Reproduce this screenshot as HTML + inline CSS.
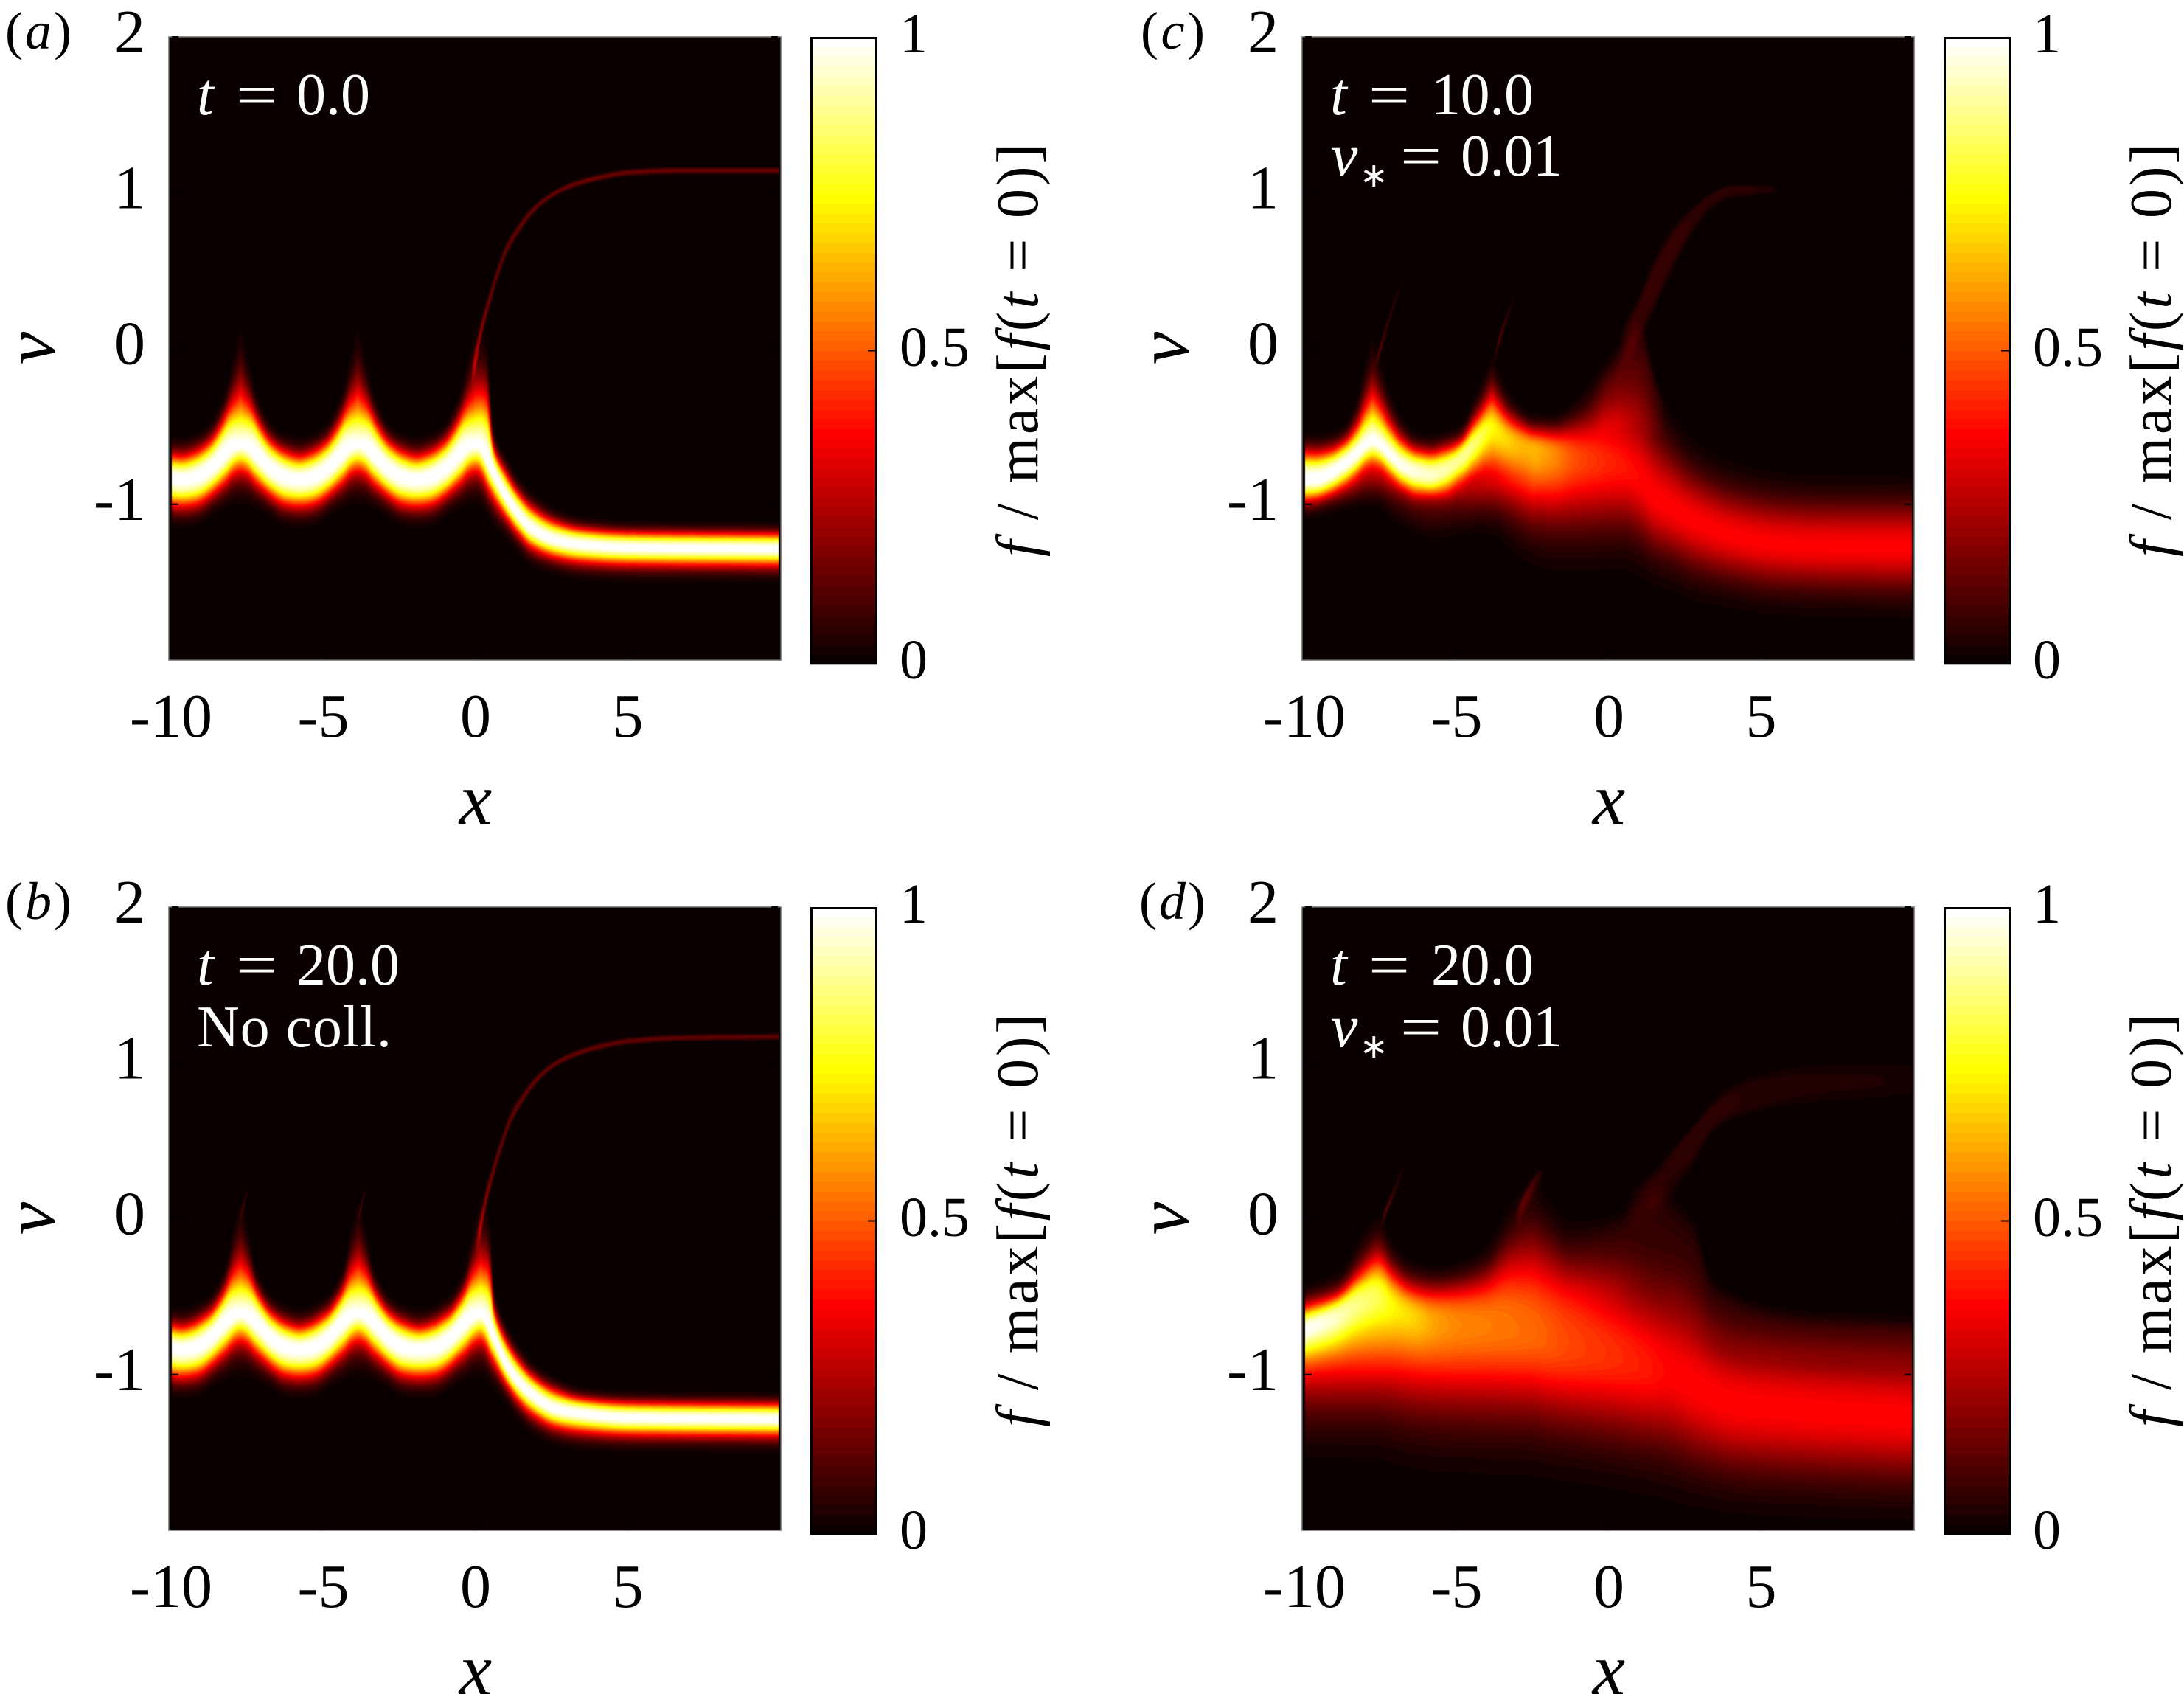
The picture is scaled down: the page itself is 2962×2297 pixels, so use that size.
<!DOCTYPE html>
<html lang="en">
<head>
<meta charset="utf-8">
<title>Phase-space distribution panels</title>
<style>
html,body{margin:0;padding:0;background:#fff;}
#page{position:relative;width:2962px;height:2297px;overflow:hidden;background:#fff;}
canvas{position:absolute;display:block;}
svg{position:absolute;left:0;top:0;}
text{font-family:"Liberation Serif",serif;fill:#000;}
.it{font-style:italic;}
.w{fill:#fff;}
</style>
</head>
<body>
<div id="page">
<canvas id="heat-a"></canvas>
<canvas id="heat-b"></canvas>
<canvas id="heat-c"></canvas>
<canvas id="heat-d"></canvas>
<svg id="overlay" width="2962" height="2297" viewBox="0 0 2962 2297">
  <!-- panel letters -->
  <text x="7" y="66" font-size="72" textLength="90">(<tspan class="it">a</tspan>)</text>
  <text x="7" y="1246" font-size="72" textLength="90">(<tspan class="it">b</tspan>)</text>
  <text x="1547" y="66" font-size="72" textLength="87">(<tspan class="it">c</tspan>)</text>
  <text x="1545" y="1246" font-size="72" textLength="90">(<tspan class="it">d</tspan>)</text>

  <!-- axis titles -->
  <text class="it" x="645" y="1117" font-size="100" text-anchor="middle">x</text>
  <text class="it" x="645" y="2297" font-size="100" text-anchor="middle">x</text>
  <text class="it" x="2182" y="1117" font-size="100" text-anchor="middle">x</text>
  <text class="it" x="2182" y="2297" font-size="100" text-anchor="middle">x</text>
  <text class="it" transform="translate(74,472) rotate(-90)" font-size="100" text-anchor="middle">v</text>
  <text class="it" transform="translate(74,1652) rotate(-90)" font-size="100" text-anchor="middle">v</text>
  <text class="it" transform="translate(1611,472) rotate(-90)" font-size="100" text-anchor="middle">v</text>
  <text class="it" transform="translate(1611,1652) rotate(-90)" font-size="100" text-anchor="middle">v</text>

  <!-- colorbar titles -->
  <text transform="translate(1407,755) rotate(-90)" font-size="80" textLength="560"><tspan class="it">f</tspan> / max[<tspan class="it">f</tspan>(<tspan class="it">t</tspan> = 0)]</text>
  <text transform="translate(1407,1935) rotate(-90)" font-size="80" textLength="560"><tspan class="it">f</tspan> / max[<tspan class="it">f</tspan>(<tspan class="it">t</tspan> = 0)]</text>
  <text transform="translate(2944,755) rotate(-90)" font-size="80" textLength="560"><tspan class="it">f</tspan> / max[<tspan class="it">f</tspan>(<tspan class="it">t</tspan> = 0)]</text>
  <text transform="translate(2944,1935) rotate(-90)" font-size="80" textLength="560"><tspan class="it">f</tspan> / max[<tspan class="it">f</tspan>(<tspan class="it">t</tspan> = 0)]</text>
</svg>
<svg id="notes" width="2962" height="2297" viewBox="0 0 2962 2297">
  <g>
    <text class="w it" x="267" y="155" font-size="82">t</text>
    <text class="w" x="320" y="155" font-size="78" textLength="56" lengthAdjust="spacingAndGlyphs">=</text>
    <text class="w" x="402" y="155" font-size="80" textLength="100">0.0</text>
  </g>
  <g>
    <text class="w it" x="267" y="1335" font-size="82">t</text>
    <text class="w" x="320" y="1335" font-size="78" textLength="56" lengthAdjust="spacingAndGlyphs">=</text>
    <text class="w" x="402" y="1335" font-size="80" textLength="140">20.0</text>
  </g>
  <text class="w" x="267" y="1419" font-size="80" textLength="264">No coll.</text>
  <g>
    <text class="w it" x="1804" y="155" font-size="82">t</text>
    <text class="w" x="1856" y="155" font-size="78" textLength="56" lengthAdjust="spacingAndGlyphs">=</text>
    <text class="w" x="1941" y="155" font-size="80" textLength="139">10.0</text>
  </g>
  <g>
    <text class="w it" x="1805" y="238" font-size="82">ν</text>
    <text class="w" x="1844" y="253" font-size="46">∗</text>
    <text class="w" x="1899" y="238" font-size="78" textLength="56" lengthAdjust="spacingAndGlyphs">=</text>
    <text class="w" x="1981" y="238" font-size="80" textLength="138">0.01</text>
  </g>
  <g>
    <text class="w it" x="1804" y="1335" font-size="82">t</text>
    <text class="w" x="1856" y="1335" font-size="78" textLength="56" lengthAdjust="spacingAndGlyphs">=</text>
    <text class="w" x="1941" y="1335" font-size="80" textLength="139">20.0</text>
  </g>
  <g>
    <text class="w it" x="1805" y="1419" font-size="82">ν</text>
    <text class="w" x="1844" y="1434" font-size="46">∗</text>
    <text class="w" x="1899" y="1419" font-size="78" textLength="56" lengthAdjust="spacingAndGlyphs">=</text>
    <text class="w" x="1981" y="1419" font-size="80" textLength="138">0.01</text>
  </g>
</svg>
</div>
<script>
/* ---------- axis tick data ---------- */
const xTicks = [-10, -5, 0, 5];
const xTickLabels = ['-10', '-5', '0', '5'];
const vTicks = [2, 1, 0, -1];
const vTickLabels = ['2', '1', '0', '-1'];
const barTicks = [0, 0.5, 1];
const barTickLabels = ['0', '0.5', '1'];

/* profile exponents shared by simple layers */
const flatPowX = [-10, 10];
const flatPow = [2, 2];
const wideTailPow = [4, 4];

/* ---------- panel a ---------- */
const aMainX = [-10,
 -9.65,-9.22,-9.02,-8.72,-8.47,-8.22,-7.97,-7.82,-7.72,-7.62,-7.47,-7.22,-6.97,-6.72,-6.42,-6.22,
 -5.79,-5.37,-5.17,-4.87,-4.62,-4.37,-4.12,-3.97,-3.87,-3.77,-3.62,-3.37,-3.12,-2.87,-2.57,-2.37,
 -1.94,-1.5,-1.3,-1,-0.75,-0.5,-0.25,-0.1,0,
 0.1,0.2,0.35,0.44,0.52,0.6,1,1.41,1.82,2.62,3.43,5.04,10];
const aMainTop = [-0.6,
 -0.604,-0.58,-0.56,-0.51,-0.43,-0.32,-0.155,-0.065,-0.004,-0.065,-0.155,-0.32,-0.43,-0.51,-0.56,-0.58,
 -0.604,-0.58,-0.56,-0.51,-0.43,-0.32,-0.155,-0.065,-0.004,-0.065,-0.155,-0.32,-0.43,-0.51,-0.56,-0.58,
 -0.604,-0.58,-0.56,-0.51,-0.43,-0.32,-0.155,-0.065,-0.004,
 -0.01,-0.02,-0.06,-0.2,-0.42,-0.547,-0.72,-0.855,-0.945,-1.05,-1.1,-1.127,-1.137];
const aMainCenter = [-0.83,
 -0.836,-0.825,-0.81,-0.775,-0.73,-0.68,-0.635,-0.622,-0.62,-0.622,-0.635,-0.68,-0.73,-0.775,-0.81,-0.825,
 -0.836,-0.825,-0.81,-0.775,-0.73,-0.68,-0.635,-0.622,-0.62,-0.622,-0.635,-0.68,-0.73,-0.775,-0.81,-0.825,
 -0.836,-0.825,-0.81,-0.775,-0.73,-0.68,-0.635,-0.622,-0.62,
 -0.622,-0.64,-0.7,-0.74,-0.77,-0.8,-0.953,-1.07,-1.157,-1.233,-1.262,-1.281,-1.29];
const aMainBottom = [-1.105,
 -1.11,-1.1,-1.085,-1.045,-1.01,-0.98,-0.945,-0.937,-0.935,-0.937,-0.945,-0.98,-1.01,-1.045,-1.085,-1.1,
 -1.11,-1.1,-1.085,-1.045,-1.01,-0.98,-0.945,-0.937,-0.935,-0.937,-0.945,-0.98,-1.01,-1.045,-1.085,-1.1,
 -1.11,-1.1,-1.085,-1.045,-1.01,-0.98,-0.945,-0.937,-0.935,
 -0.94,-0.96,-1.01,-1.04,-1.065,-1.09,-1.18,-1.28,-1.36,-1.42,-1.45,-1.465,-1.47];
const aMainAmpX = [-10, 10];
const aMainAmp = [1, 1];
const aMainPowX = [-10,-9.65,-8.72,-8.22,-7.97,-7.72,-7.47,-7.22,-6.72,-5.79,-4.87,-4.37,-4.12,-3.87,-3.62,-3.37,-2.87,-1.94,-1,-0.5,-0.25,0,0.25,0.5,1,10];
const aMainPowUp = [2.3,2.3,2.7,2.7,2.1,1.75,2.1,2.7,2.7,2.3,2.7,2.7,2.1,1.75,2.1,2.7,2.7,2.3,2.7,2.7,2.1,1.75,2,2.3,2.5,2.5];
const aMainPowDown = [2.5,2.5,2.4,2.2,1.9,1.75,1.9,2.2,2.4,2.5,2.4,2.2,1.9,1.75,1.9,2.2,2.4,2.5,2.4,2.2,1.9,1.75,1.9,2,2,2];
const aTailX = [-0.15,0,0.2,0.44,0.68,1,1.41,1.82,2.38,3.03,3.83,5.04,6.66,10];
const aTailCenter = [-0.2,-0.064,0.13,0.3,0.457,0.63,0.766,0.873,0.969,1.037,1.086,1.129,1.143,1.143];
const aTailTop = [-0.08,0.04,0.22,0.38,0.527,0.69,0.816,0.913,1.001,1.069,1.118,1.161,1.172,1.172];
const aTailBottom = [-0.32,-0.17,0.04,0.22,0.387,0.57,0.716,0.833,0.937,1.005,1.054,1.097,1.108,1.108];
const aTailAmpX = [-0.15,0,0.2,0.44,0.68,1,5.04,10];
const aTailAmp = [0,0.22,0.18,0.15,0.14,0.14,0.15,0.15];

/* ---------- panel b ---------- */
const bMainX = [-10,
 -9.65,-9.22,-9.02,-8.72,-8.47,-8.22,-7.97,-7.82,-7.72,-7.62,-7.47,-7.22,-6.97,-6.72,-6.42,-6.22,
 -5.79,-5.35,-5.15,-4.85,-4.6,-4.35,-4.1,-3.95,-3.85,-3.75,-3.6,-3.35,-3.1,-2.85,-2.55,-2.35,
 -1.85,-1.34,-1.14,-0.84,-0.59,-0.34,-0.09,0.06,0.16,
 0.26,0.36,0.48,0.6,1,1.41,1.82,2.62,3.43,5.04,10];
const bMainTop = [-0.6,
 -0.61,-0.585,-0.56,-0.52,-0.45,-0.35,-0.16,-0.07,-0.02,-0.07,-0.16,-0.35,-0.45,-0.52,-0.565,-0.585,
 -0.61,-0.585,-0.56,-0.52,-0.45,-0.35,-0.16,-0.07,-0.02,-0.07,-0.16,-0.35,-0.45,-0.52,-0.565,-0.585,
 -0.615,-0.585,-0.56,-0.52,-0.45,-0.35,-0.16,-0.06,0,
 -0.02,-0.05,-0.15,-0.46,-0.7,-0.836,-0.935,-1.04,-1.1,-1.127,-1.137];
const bMainCenter = [-0.825,
 -0.835,-0.825,-0.81,-0.77,-0.72,-0.67,-0.63,-0.615,-0.61,-0.615,-0.63,-0.67,-0.72,-0.77,-0.81,-0.825,
 -0.835,-0.825,-0.81,-0.77,-0.72,-0.67,-0.63,-0.615,-0.61,-0.615,-0.63,-0.67,-0.72,-0.77,-0.81,-0.825,
 -0.835,-0.825,-0.81,-0.77,-0.72,-0.67,-0.63,-0.615,-0.61,
 -0.625,-0.65,-0.71,-0.76,-0.935,-1.05,-1.127,-1.224,-1.252,-1.281,-1.29];
const bMainBottom = [-1.11,
 -1.115,-1.105,-1.09,-1.05,-1.015,-0.985,-0.95,-0.94,-0.94,-0.94,-0.95,-0.985,-1.015,-1.05,-1.09,-1.105,
 -1.115,-1.105,-1.09,-1.05,-1.015,-0.985,-0.95,-0.94,-0.94,-0.94,-0.95,-0.985,-1.015,-1.05,-1.09,-1.105,
 -1.115,-1.105,-1.09,-1.05,-1.015,-0.985,-0.95,-0.94,-0.94,
 -0.945,-0.97,-1.01,-1.04,-1.15,-1.26,-1.34,-1.42,-1.45,-1.465,-1.47];
const bMainAmpX = [-10, 10];
const bMainAmp = [1, 1];
const bMainPowX = [-10,-9.65,-8.72,-8.22,-7.97,-7.72,-7.47,-7.22,-6.72,-5.79,-4.85,-4.35,-4.1,-3.85,-3.6,-3.35,-2.85,-1.85,-0.84,-0.34,-0.09,0.16,0.41,0.66,1.16,10];
const bMainPowUp = [2.3,2.3,2.7,2.7,2.1,1.75,2.1,2.7,2.7,2.3,2.7,2.7,2.1,1.75,2.1,2.7,2.7,2.3,2.7,2.7,2.1,1.75,2,2.3,2.5,2.5];
const bMainPowDown = [2.5,2.5,2.4,2.2,1.9,1.75,1.9,2.2,2.4,2.5,2.4,2.2,1.9,1.75,1.9,2.2,2.4,2.5,2.4,2.2,1.9,1.75,1.9,2,2,2];
const bTailX = [0,0.16,0.36,0.6,0.84,1.16,1.57,1.98,2.54,3.19,3.99,5.04,6.66,10];
const bTailCenter = [-0.2,-0.05,0.145,0.315,0.47,0.645,0.78,0.888,0.984,1.05,1.1,1.14,1.16,1.168];
const bTailTop = [-0.09,0.05,0.235,0.395,0.54,0.705,0.83,0.928,1.016,1.082,1.132,1.172,1.19,1.198];
const bTailBottom = [-0.31,-0.15,0.055,0.235,0.4,0.585,0.73,0.848,0.952,1.018,1.068,1.108,1.13,1.138];
const bTailAmpX = [0,0.16,0.6,1,10];
const bTailAmp = [0,0.2,0.15,0.14,0.14];
const bTip1X = [-7.75,-7.65,-7.55,-7.42];
const bTip1Center = [-0.02,0.06,0.14,0.2];
const bTip1Top = [0.02,0.1,0.18,0.24];
const bTip1Bottom = [-0.06,0.02,0.1,0.16];
const bTip1AmpX = [-7.75,-7.65,-7.55,-7.42];
const bTip1Amp = [0,0.1,0.06,0];
const bTip2X = [-3.88,-3.78,-3.68,-3.55];
const bTip2Center = [-0.02,0.06,0.14,0.2];
const bTip2Top = [0.02,0.1,0.18,0.24];
const bTip2Bottom = [-0.06,0.02,0.1,0.16];
const bTip2AmpX = [-3.88,-3.78,-3.68,-3.55];
const bTip2Amp = [0,0.1,0.06,0];

/* ---------- panel c ---------- */
const cMainX = [-10,-9.65,-9.2,-8.7,-8.25,-8,-7.85,-7.76,-7.66,-7.5,-7.25,-6.8,-6.3,-5.84,-5.4,-4.9,-4.4,-4.1,-3.93,-3.83,-3.7,-3.4,-3,-2.4,-1.5];
const cMainCenter = [-0.826,-0.826,-0.8,-0.74,-0.67,-0.62,-0.6,-0.594,-0.6,-0.62,-0.67,-0.75,-0.79,-0.806,-0.78,-0.71,-0.6,-0.53,-0.5,-0.49,-0.5,-0.55,-0.61,-0.66,-0.7];
const cMainTop = [-0.574,-0.58,-0.57,-0.52,-0.36,-0.18,-0.09,-0.05,-0.09,-0.17,-0.31,-0.48,-0.57,-0.584,-0.56,-0.52,-0.34,-0.22,-0.14,-0.1,-0.16,-0.28,-0.37,-0.42,-0.4];
const cMainBottom = [-1.04,-1.03,-1,-0.96,-0.92,-0.9,-0.9,-0.9,-0.9,-0.9,-0.92,-0.96,-1,-1,-1,-0.98,-0.96,-0.96,-0.98,-0.98,-0.98,-0.98,-1,-1,-1];
const cMainAmpX = [-10,-7.76,-5.84,-4.9,-4.4,-3.83,-3.2,-2.6,-2.2];
const cMainAmp = [0.98,1,0.93,0.88,0.78,0.47,0.22,0.03,0];
const cMainPowX = [-10,-8.7,-7.76,-6.8,-5.84,-4.9,-3.83,-3,-1.5];
const cMainPow = [2.4,2.3,1.75,2.2,2.4,2.2,1.8,2,2];
const cBroadX = [-5,-4.4,-3.83,-3.2,-2.4,-1.87,-1.1,-0.45,-0.07,0.4,0.83,1.2,1.47,2.11,2.75,4.03,5.31,6.6,10];
const cBroadCenter = [-0.85,-0.75,-0.62,-0.62,-0.66,-0.68,-0.71,-0.72,-0.73,-0.75,-0.8,-0.88,-0.95,-1.03,-1.1,-1.2,-1.25,-1.27,-1.28];
const cBroadTop = [-0.6,-0.4,-0.15,-0.33,-0.44,-0.44,-0.35,-0.2,-0.12,-0.1,-0.1,-0.15,-0.25,-0.45,-0.6,-0.74,-0.8,-0.825,-0.835];
const cBroadBottom = [-1.15,-1.15,-1.15,-1.24,-1.32,-1.36,-1.38,-1.39,-1.39,-1.39,-1.42,-1.47,-1.5,-1.54,-1.6,-1.65,-1.69,-1.7,-1.72];
const cBroadAmpX = [-5,-4.4,-3.83,-3.2,-2.4,-1.87,-1.1,-0.45,-0.07,0.4,0.83,1.2,10];
const cBroadAmp = [0,0.1,0.3,0.45,0.62,0.58,0.48,0.44,0.42,0.4,0.38,0.37,0.365];
const cBroadPowX = [-5,-1.5,-0.45,0.4,10];
const cBroadPowUp = [2.6,2.6,2.2,2,2.2];
const cBroadPowDown = [2,2,2,2,2];
const cSkirtX = [-10,-8.5,-7.76,-7,-5.84,-4.8,-3.83,-3.2,-2.4];
const cSkirtCenter = [-0.95,-0.9,-0.85,-0.9,-0.95,-0.95,-0.9,-0.9,-0.95];
const cSkirtTop = [-0.8,-0.75,-0.7,-0.75,-0.8,-0.8,-0.75,-0.75,-0.8];
const cSkirtBottom = [-1.12,-1.06,-1.03,-1.15,-1.26,-1.24,-1.2,-1.28,-1.36];
const cSkirtAmpX = [-10,-8.5,-7.76,-7,-5.84,-4.8,-3.83,-3.2,-2.4];
const cSkirtAmp = [0.12,0.1,0.1,0.12,0.14,0.12,0.09,0.06,0.02];
const cDimX = [-0.6,-0.07,0.4,0.83,1.1,1.3,1.5,1.9];
const cDimCenter = [-0.4,-0.35,-0.3,-0.25,-0.25,-0.3,-0.35,-0.45];
const cDimTop = [-0.25,-0.08,0.08,0.22,0.2,0.05,-0.15,-0.35];
const cDimBottom = [-0.6,-0.6,-0.6,-0.6,-0.6,-0.6,-0.6,-0.6];
const cDimAmpX = [-0.6,-0.07,0.4,0.83,1.1,1.3,1.5,1.9];
const cDimAmp = [0,0.07,0.1,0.1,0.09,0.08,0.06,0];
const cTailX = [0.3,0.83,1.47,2.11,2.75,3.39,4.03,5.31,5.5];
const cTailCenter = [0,0.15,0.42,0.66,0.84,0.97,1.02,1.02,1.02];
const cTailTop = [0.15,0.3,0.59,0.8,0.92,1.01,1.058,1.05,1.04];
const cTailBottom = [-0.2,-0.05,0.2,0.48,0.72,0.88,0.95,0.99,1];
const cTailAmpX = [0.3,0.83,1.47,2.11,2.75,3.39,4.03,5.31,5.5];
const cTailAmp = [0,0.06,0.07,0.07,0.06,0.05,0.05,0.04,0];
const cTip1X = [-7.7,-7.5,-7.2,-6.9,-6.72];
const cTip1Center = [-0.12,0,0.2,0.37,0.44];
const cTip1Top = [-0.07,0.05,0.25,0.42,0.48];
const cTip1Bottom = [-0.17,-0.05,0.15,0.32,0.4];
const cTip1AmpX = [-7.7,-7.5,-7.2,-6.9,-6.72];
const cTip1Amp = [0,0.12,0.06,0.03,0];
const cTip2X = [-3.78,-3.6,-3.35,-3.15,-3.02];
const cTip2Center = [-0.1,0.05,0.2,0.31,0.37];
const cTip2Top = [-0.05,0.1,0.25,0.35,0.4];
const cTip2Bottom = [-0.15,0,0.15,0.27,0.34];
const cTip2AmpX = [-3.78,-3.6,-3.35,-3.15,-3.02];
const cTip2Amp = [0,0.12,0.06,0.03,0];

/* ---------- panel d ---------- */
const dMainX = [-10,-9,-8.2,-7.57,-7,-6.3,-5.65,-5];
const dMainCenter = [-0.69,-0.6,-0.5,-0.45,-0.5,-0.6,-0.66,-0.7];
const dMainTop = [-0.47,-0.42,-0.25,-0.1,-0.22,-0.34,-0.4,-0.4];
const dMainBottom = [-1.05,-1,-0.96,-0.95,-0.95,-0.98,-1,-1];
const dMainAmpX = [-10,-9,-8.2,-7.57,-7,-6.3,-5.65,-5];
const dMainAmp = [0.62,0.56,0.46,0.38,0.25,0.12,0.03,0];
const dBroadX = [-10,-8.79,-8.15,-7.57,-7.12,-6.6,-5.65,-4.9,-4.04,-3.15,-2.5,-2.12,-1.35,0.19,0.83,1.47,2.11,2.75,3.39,4.03,5.31,6.6,10];
const dBroadCenter = [-0.8,-0.76,-0.74,-0.72,-0.7,-0.69,-0.68,-0.69,-0.7,-0.72,-0.74,-0.77,-0.825,-0.89,-0.93,-0.97,-1.01,-1.08,-1.14,-1.19,-1.22,-1.24,-1.28];
const dBroadTop = [-0.466,-0.35,-0.147,-0.04,-0.19,-0.29,-0.33,-0.3,-0.21,0.058,0.16,0.1,-0.05,-0.1,-0.16,-0.2,-0.23,-0.32,-0.48,-0.55,-0.6,-0.62,-0.64];
const dBroadBottom = [-1.5,-1.49,-1.485,-1.48,-1.5,-1.52,-1.54,-1.55,-1.56,-1.57,-1.58,-1.6,-1.63,-1.69,-1.72,-1.75,-1.79,-1.83,-1.85,-1.87,-1.89,-1.9,-1.92];
const dBroadAmpX = [-10,-7.57,-5.65,-4.04,-2.5,-1.35,0.19,1.2,2.11,4.03,10];
const dBroadAmp = [0.4,0.5,0.57,0.55,0.52,0.47,0.43,0.4,0.37,0.37,0.37];
const dBroadPowX = [-10,-4,-2.5,-1.35,0.19,10];
const dBroadPowUp = [3,3,2.5,3,2.5,2.2];
const dBroadPowDown = [2,2,2,2,2,2];
const dDimX = [-1.5,-0.6,0.19,0.83,1.47,2.11,2.75,3.39,4.03,5.31,6.6,10];
const dDimCenter = [-0.3,-0.3,-0.25,-0.2,-0.15,-0.25,-0.35,-0.6,-0.67,-0.75,-0.78,-0.8];
const dDimTop = [0,0.02,0.06,0.2,0.33,0.2,0.06,-0.35,-0.45,-0.56,-0.6,-0.64];
const dDimBottom = [-0.6,-0.6,-0.6,-0.6,-0.65,-0.7,-0.8,-0.85,-0.9,-0.95,-0.95,-1];
const dDimAmpX = [-1.5,-0.6,0.19,0.83,1.47,2.11,2.75,3.39,10];
const dDimAmp = [0,0.03,0.05,0.06,0.06,0.06,0.06,0.05,0.05];
const dTailX = [0.5,1.47,2.11,2.75,3.39,4.03,5.31,6.6,10];
const dTailCenter = [0.05,0.2,0.38,0.52,0.66,0.74,0.82,0.87,0.89];
const dTailTop = [0.2,0.325,0.47,0.61,0.76,0.88,0.98,1.02,1.03];
const dTailBottom = [-0.1,0,0.12,0.3,0.53,0.61,0.67,0.7,0.756];
const dTailAmpX = [0.5,1.47,2.11,2.75,3.39,4.03,5.31,6.6,10];
const dTailAmp = [0,0.04,0.05,0.06,0.06,0.05,0.04,0.035,0.03];
const dTip1X = [-7.5,-7.3,-7,-6.8,-6.68];
const dTip1Center = [-0.05,0.06,0.2,0.3,0.33];
const dTip1Top = [0,0.11,0.25,0.34,0.36];
const dTip1Bottom = [-0.1,0.01,0.15,0.26,0.3];
const dTip1AmpX = [-7.5,-7.3,-7,-6.8,-6.68];
const dTip1Amp = [0,0.12,0.06,0.03,0];
const dTip2X = [-3.1,-2.8,-2.5,-2.3,-2.15];
const dTip2Center = [0,0.12,0.22,0.28,0.3];
const dTip2Top = [0.06,0.18,0.28,0.33,0.34];
const dTip2Bottom = [-0.14,-0.02,0.08,0.18,0.24];
const dTip2AmpX = [-3.1,-2.8,-2.5,-2.3,-2.15];
const dTip2Amp = [0,0.1,0.08,0.05,0];

/* monotone cubic (PCHIP) through digitised knots */
function curve(xs, ys) {
  const n = xs.length;
  const h = [], s = [], m = new Array(n).fill(0);
  for (let i = 0; i < n - 1; i++) { h.push(xs[i + 1] - xs[i]); s.push((ys[i + 1] - ys[i]) / h[i]); }
  m[0] = s[0]; m[n - 1] = s[n - 2];
  for (let i = 1; i < n - 1; i++) {
    if (s[i - 1] * s[i] > 0) {
      const w1 = 2 * h[i] + h[i - 1], w2 = h[i] + 2 * h[i - 1];
      m[i] = (w1 + w2) / (w1 / s[i - 1] + w2 / s[i]);
    }
  }
  return function (x) {
    if (x <= xs[0]) return ys[0];
    if (x >= xs[n - 1]) return ys[n - 1];
    let lo = 0, hi = n - 1;
    while (hi - lo > 1) { const k = (hi + lo) >> 1; if (xs[k] <= x) lo = k; else hi = k; }
    const d = h[lo], t = (x - xs[lo]) / d, t2 = t * t, t3 = t2 * t;
    return (2 * t3 - 3 * t2 + 1) * ys[lo] + (t3 - 2 * t2 + t) * d * m[lo] + (-2 * t3 + 3 * t2) * ys[hi] + (t3 - t2) * d * m[hi];
  };
}

function layer(x, center, top, bottom, ampX, amp, powX, powUp, powDown) {
  const pX = powX || flatPowX, pU = powUp || flatPow, pD = powDown || pU;
  return {
    xMin: x[0], xMax: x[x.length - 1],
    center: curve(x, center), top: curve(x, top), bottom: curve(x, bottom),
    amp: curve(ampX, amp), powUp: curve(pX, pU), powDown: curve(pX, pD)
  };
}

const panels = [
  { key: 'a', dx: 0, dy: 0, layers: [
    layer(aMainX, aMainCenter, aMainTop, aMainBottom, aMainAmpX, aMainAmp, aMainPowX, aMainPowUp, aMainPowDown),
    layer(aTailX, aTailCenter, aTailTop, aTailBottom, aTailAmpX, aTailAmp) ] },
  { key: 'b', dx: 0, dy: 1180, layers: [
    layer(bMainX, bMainCenter, bMainTop, bMainBottom, bMainAmpX, bMainAmp, bMainPowX, bMainPowUp, bMainPowDown),
    layer(bTailX, bTailCenter, bTailTop, bTailBottom, bTailAmpX, bTailAmp),
    layer(bTip1X, bTip1Center, bTip1Top, bTip1Bottom, bTip1AmpX, bTip1Amp),
    layer(bTip2X, bTip2Center, bTip2Top, bTip2Bottom, bTip2AmpX, bTip2Amp) ] },
  { key: 'c', dx: 1537, dy: 0, layers: [
    layer(cMainX, cMainCenter, cMainTop, cMainBottom, cMainAmpX, cMainAmp, cMainPowX, cMainPow),
    layer(cBroadX, cBroadCenter, cBroadTop, cBroadBottom, cBroadAmpX, cBroadAmp, cBroadPowX, cBroadPowUp, cBroadPowDown),
    layer(cSkirtX, cSkirtCenter, cSkirtTop, cSkirtBottom, cSkirtAmpX, cSkirtAmp),
    layer(cDimX, cDimCenter, cDimTop, cDimBottom, cDimAmpX, cDimAmp, flatPowX, wideTailPow),
    layer(cTailX, cTailCenter, cTailTop, cTailBottom, cTailAmpX, cTailAmp, flatPowX, wideTailPow),
    layer(cTip1X, cTip1Center, cTip1Top, cTip1Bottom, cTip1AmpX, cTip1Amp),
    layer(cTip2X, cTip2Center, cTip2Top, cTip2Bottom, cTip2AmpX, cTip2Amp) ] },
  { key: 'd', dx: 1537, dy: 1180, layers: [
    layer(dMainX, dMainCenter, dMainTop, dMainBottom, dMainAmpX, dMainAmp),
    layer(dBroadX, dBroadCenter, dBroadTop, dBroadBottom, dBroadAmpX, dBroadAmp, dBroadPowX, dBroadPowUp, dBroadPowDown),
    layer(dDimX, dDimCenter, dDimTop, dDimBottom, dDimAmpX, dDimAmp, flatPowX, wideTailPow),
    layer(dTailX, dTailCenter, dTailTop, dTailBottom, dTailAmpX, dTailAmp, flatPowX, wideTailPow),
    layer(dTip1X, dTip1Center, dTip1Top, dTip1Bottom, dTip1AmpX, dTip1Amp),
    layer(dTip2X, dTip2Center, dTip2Top, dTip2Bottom, dTip2AmpX, dTip2Amp) ] }
];

/* ---------- scales ---------- */
const AX = { left: 229, right: 1059, top: 50, bottom: 895, dataLeft: 233, dataRight: 1056 };
const BAR = { left: 1099, right: 1190, top: 50, bottom: 901 };
function xScale(x) { return 645 + 41.3 * x; }
function xInvert(px) { return (px - 645) / 41.3; }
function vScale(v) { return AX.top + (2 - v) * (AX.bottom - AX.top) / 4; }
function vInvert(py) { return 2 - (py - AX.top) * 4 / (AX.bottom - AX.top); }
function barScale(f) { return BAR.bottom - f * (BAR.bottom - BAR.top); }

/* ---------- 64-level hot colormap ---------- */
function hot(i) {
  const n = 64, n1 = 24;
  const r = Math.min(1, (i + 1) / n1);
  const g = i < n1 ? 0 : Math.min(1, (i - n1 + 1) / n1);
  const b = i < 2 * n1 ? 0 : (i - 2 * n1 + 1) / (n - 2 * n1);
  return 'rgb(' + Math.round(r * 255) + ',' + Math.round(g * 255) + ',' + Math.round(b * 255) + ')';
}
const hotColors = [];
for (let i = 0; i < 64; i++) hotColors.push(hot(i));

function layerProfile(l, x) {
  if (x < l.xMin || x > l.xMax) return null;
  const amp = l.amp(x);
  if (amp <= 0.001) return null;
  const c = l.center(x);
  const pu = l.powUp(x), pd = l.powDown(x);
  return {
    amp: amp, c: c, pu: pu, pd: pd,
    wu: Math.max(0.004, (l.top(x) - c) / Math.pow(3, 1 / pu)),
    wd: Math.max(0.004, (c - l.bottom(x)) / Math.pow(3, 1 / pd))
  };
}

function drawHeat(p) {
  const cv = document.getElementById('heat-' + p.key);
  const W = AX.right - AX.left, H = AX.bottom - AX.top;
  cv.width = W; cv.height = H;
  cv.style.left = (AX.left + p.dx) + 'px';
  cv.style.top = (AX.top + p.dy) + 'px';
  const ctx = cv.getContext('2d');
  ctx.fillStyle = hotColors[0];
  ctx.fillRect(0, 0, W, H);
  const cell = 1;
  for (let px = AX.dataLeft; px < AX.dataRight; px += cell) {
    const x = xInvert(px + cell / 2);
    const prof = [];
    for (const l of p.layers) { const q = layerProfile(l, x); if (q) prof.push(q); }
    for (let py = AX.top; py < AX.bottom; py += cell) {
      const v = vInvert(py + cell / 2);
      let f = 0;
      for (const q of prof) {
        const d = v - q.c;
        const z = Math.abs(d) / (d > 0 ? q.wu : q.wd);
        if (z < 4) f += q.amp * Math.exp(-Math.pow(z, d > 0 ? q.pu : q.pd));
      }
      const idx = Math.min(63, Math.floor(Math.min(1, f) * 64));
      if (idx > 0) {
        ctx.fillStyle = hotColors[idx];
        ctx.fillRect(px - AX.left, py - AX.top, cell, cell);
      }
    }
  }
}

/* ---------- SVG axes ---------- */
const NS = 'http://www.w3.org/2000/svg';
const overlay = document.getElementById('overlay');
function line(g, x1, y1, x2, y2, stroke, w) {
  const el = document.createElementNS(NS, 'line');
  el.setAttribute('x1', x1); el.setAttribute('y1', y1);
  el.setAttribute('x2', x2); el.setAttribute('y2', y2);
  el.setAttribute('stroke', stroke); el.setAttribute('stroke-width', w);
  
  
  g.appendChild(el);
}
function label(g, str, x, y, anchor, size) {
  const el = document.createElementNS(NS, 'text');
  el.textContent = str;
  el.setAttribute('x', x); el.setAttribute('y', y);
  el.setAttribute('text-anchor', anchor);
  el.setAttribute('font-size', size);
  
  
  g.appendChild(el);
}

function drawAxes(p) {
  const g = document.createElementNS(NS, 'g');
  g.setAttribute('transform', 'translate(' + p.dx + ',' + p.dy + ')');
  
  
  overlay.appendChild(g);

  const frame = document.createElementNS(NS, 'rect');
  frame.setAttribute('x', AX.left); frame.setAttribute('y', AX.top);
  frame.setAttribute('width', AX.right - AX.left); frame.setAttribute('height', AX.bottom - AX.top);
  frame.setAttribute('fill', 'none'); frame.setAttribute('stroke', '#666'); frame.setAttribute('stroke-width', 1.5);
  
  
  g.appendChild(frame);

  xTicks.forEach(function (t, i) {
    line(g, xScale(t), AX.bottom - 1, xScale(t), AX.bottom - 9, '#000', 2);
    label(g, xTickLabels[i], xScale(t), 999, 'middle', 84);
  });
  vTicks.forEach(function (t, i) {
    line(g, AX.left + 4, vScale(t), AX.left + 13, vScale(t), '#000', 2);
    line(g, AX.right - 4, vScale(t), AX.right - 13, vScale(t), '#000', 2);
    label(g, vTickLabels[i], 197, vScale(t) + 21, 'end', 84);
  });

  /* colorbar */
  const cb = document.createElementNS(NS, 'g');
  
  
  g.appendChild(cb);
  const h = (barScale(0) - barScale(1)) / 64;
  for (let i = 0; i < 64; i++) {
    const r = document.createElementNS(NS, 'rect');
    r.setAttribute('x', BAR.left);
    r.setAttribute('y', barScale((i + 1) / 64) - 0.3);
    r.setAttribute('width', BAR.right - BAR.left);
    r.setAttribute('height', h + 0.6);
    r.setAttribute('fill', hotColors[i]);
    
    
    cb.appendChild(r);
  }
  const bf = document.createElementNS(NS, 'rect');
  bf.setAttribute('x', BAR.left + 1.5); bf.setAttribute('y', BAR.top + 1.5);
  bf.setAttribute('width', BAR.right - BAR.left - 3); bf.setAttribute('height', BAR.bottom - BAR.top - 3);
  bf.setAttribute('fill', 'none'); bf.setAttribute('stroke', '#000'); bf.setAttribute('stroke-width', 3);
  
  
  cb.appendChild(bf);
  barTicks.forEach(function (t, i) {
    if (t === 0.5) line(cb, BAR.right - 3, barScale(t), BAR.right - 13, barScale(t), '#000', 2);
    label(cb, barTickLabels[i], 1220, (t === 1 ? 71 : t === 0.5 ? 496 : 920), 'start', 76);
  });
}

panels.forEach(function (p) { drawHeat(p); drawAxes(p); });
</script>
</body>
</html>
